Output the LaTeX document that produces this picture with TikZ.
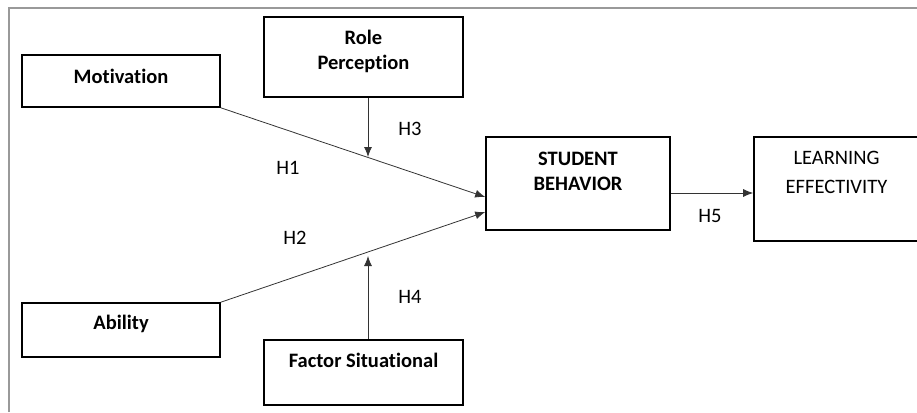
\documentclass[tikz,border=0pt]{standalone}
\usepackage{fontspec}
\setmainfont{Carlito}[Ligatures={NoCommon,NoRare}]
\usetikzlibrary{arrows.meta}
\tikzset{
  box/.style={draw, line width=1.6pt, minimum width=#1, inner sep=0pt},
  txt/.style={font=\fontsize{20.5}{25}\selectfont, align=center, inner sep=0pt},
  arr/.style={-{Latex[length=10pt,width=8pt]}, line width=0.8pt, black!80},
  link/.style={line width=0.8pt, black!75}
}
\begin{document}
\begin{tikzpicture}[x=1pt,y=-1pt]
		\useasboundingbox (0,0) rectangle (917,412);
		% frame
		\draw[gray!80, line width=1.4pt] (9,412) -- (9,8) -- (917,8);
		% boxes
		\node[box=198pt, minimum height=52pt] (mot) at (121,81) {};
		\node[box=199pt, minimum height=80pt] (role) at (363.5,57) {};
		\node[box=184pt, minimum height=93pt] (sb) at (578,183.5) {};
		\node[box=165pt, minimum height=104pt] (learn) at (836.5,189) {};
		\node[box=198pt, minimum height=54pt] (abil) at (121,330) {};
		\node[box=199pt, minimum height=65pt] (fact) at (363.5,372.5) {};
		% box texts
		\node[txt, font=\fontsize{20.5}{25}\selectfont\bfseries] (motT) at (121,76) {Motivation};
		\node[txt, font=\fontsize{20.5}{25}\selectfont\bfseries] (roleT) at (363.5,51.5) {Role\\Perception};
		\node[txt, font=\fontsize{20.5}{25}\selectfont\bfseries] (sbT) at (578,171) {STUDENT\\BEHAVIOR};
		\node[txt] (learnT) at (836.5,172.5) {LEARNING\\[4pt]EFFECTIVITY};
		\node[txt, font=\fontsize{20.5}{25}\selectfont\bfseries] (abilT) at (121,324) {Ability};
		\node[txt, font=\fontsize{20.5}{25}\selectfont\bfseries] (factT) at (363.5,360) {Factor Situational};
		% arrows
		\coordinate (h3end) at (368,157);
		\coordinate (h4end) at (368,256);
		\draw[arr] (mot.south east) -- ([yshift=-13.5pt]sb.west);
		\draw[arr] (abil.north east) -- ([yshift=-28.5pt]sb.west);
		\draw[arr] ([xshift=4.5pt]role.south) -- (h3end);
		\draw[arr] ([xshift=4.5pt]fact.north) -- (h4end);
		\draw[arr] ([yshift=-9.5pt]sb.east) -- ([yshift=-4pt]learn.west);
		% hypotheses
		\node[txt] (h1) at (288,168) {H1};
		\node[txt] (h2) at (295,238) {H2};
		\node[txt] (h3) at (410,129) {H3};
		\node[txt] (h4) at (410,297) {H4};
		\node[txt] (h5) at (710,216) {H5};
\end{tikzpicture}
\end{document}
